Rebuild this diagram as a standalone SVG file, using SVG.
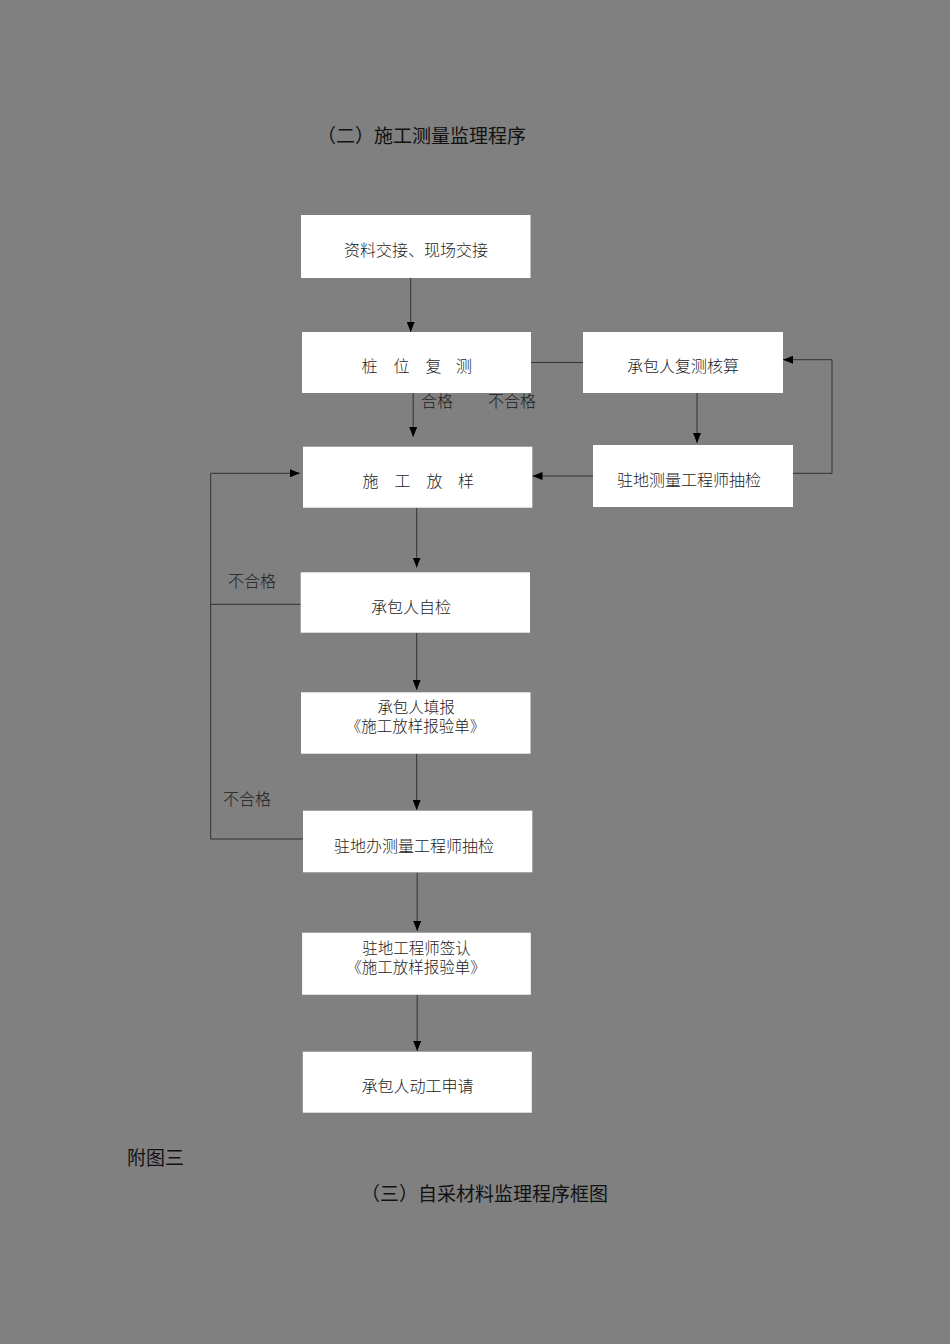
<svg xmlns="http://www.w3.org/2000/svg" width="950" height="1344" viewBox="0 0 950 1344">
<style>
.bg{fill:#808080}
.box{fill:#ffffff}
.t{font-family:"Noto Sans CJK SC","Liberation Serif",serif;font-size:16px;font-weight:300;fill:#1a1a1a;text-anchor:middle;dominant-baseline:central}
.t2{font-family:"Noto Sans CJK SC","Liberation Serif",serif;font-size:15.5px;font-weight:300;fill:#1a1a1a;text-anchor:middle;dominant-baseline:central}
.ts{font-family:"Noto Sans CJK SC","Liberation Serif",serif;font-size:16px;font-weight:300;fill:#1a1a1a;dominant-baseline:central}
.lbl{font-family:"Noto Sans CJK SC","Liberation Sans",sans-serif;font-size:16px;font-weight:300;fill:#1a1a1a;dominant-baseline:central}
.h{font-family:"Noto Sans CJK SC","Liberation Sans",sans-serif;font-size:19px;font-weight:400;fill:#111;dominant-baseline:central}
.c{fill:none;stroke:#333;stroke-width:1}
</style>
<defs>
<marker id="ah" markerUnits="userSpaceOnUse" markerWidth="10" markerHeight="8" refX="10" refY="4" orient="auto">
<path d="M0,0 L10,4 L0,8 z" fill="#000"/>
</marker>
</defs>
<rect class="bg" x="0" y="0" width="950" height="1344"/>
<text class="h" x="317" y="134">（二）施工测量监理程序</text>

<g id="connectors">
<path class="c" d="M410.7,278 V332" marker-end="url(#ah)"/>
<path class="c" d="M531,362.5 H583"/>
<path class="c" d="M413.2,388 V437" marker-end="url(#ah)"/>
<path class="c" d="M697,393 V443" marker-end="url(#ah)"/>
<path class="c" d="M593,476 H532.5" marker-end="url(#ah)"/>
<path class="c" d="M793,473.3 H832 V359.7 H783" marker-end="url(#ah)"/>
<path class="c" d="M416.7,508 V567.5" marker-end="url(#ah)"/>
<path class="c" d="M416.7,633 V690" marker-end="url(#ah)"/>
<path class="c" d="M416.7,754 V810" marker-end="url(#ah)"/>
<path class="c" d="M417.2,872.5 V931" marker-end="url(#ah)"/>
<path class="c" d="M417.2,995 V1051" marker-end="url(#ah)"/>
<path class="c" d="M302.7,839 H210.7 V473.3 H300" marker-end="url(#ah)"/>
<path class="c" d="M300.7,604.3 H210.7"/>
<text class="lbl" x="421" y="400">合格</text>
<text class="lbl" x="488" y="400">不合格</text>
<text class="lbl" x="228" y="579.5">不合格</text>
<text class="lbl" x="223" y="797.5">不合格</text>
</g>

<g id="n1">
<rect class="box" x="301" y="215" width="229.5" height="63"/>
<text class="t" x="416" y="249">资料交接、现场交接</text>
</g>
<g id="n2">
<rect class="box" x="302" y="332" width="229" height="61"/>
<text class="ts" x="361.5 393.5 425.5 456" y="365">桩位复测</text>
</g>
<g id="n3">
<rect class="box" x="583" y="332" width="200" height="61"/>
<text class="t" x="683" y="365">承包人复测核算</text>
</g>
<g id="n4">
<rect class="box" x="593" y="445" width="200" height="62"/>
<text class="t" x="689" y="479">驻地测量工程师抽检</text>
</g>
<g id="n5">
<rect class="box" x="303" y="446.7" width="229.3" height="61"/>
<text class="ts" x="362.5 394.5 426.5 458" y="480">施工放样</text>
</g>
<g id="n6">
<rect class="box" x="300.7" y="572.3" width="229.3" height="60.4"/>
<text class="t" x="411" y="606">承包人自检</text>
</g>
<g id="n7">
<rect class="box" x="301" y="692.3" width="229.5" height="61.4"/>
<text class="t2"><tspan x="416" y="706">承包人填报</tspan><tspan x="415.5" y="725">《施工放样报验单》</tspan></text>
</g>
<g id="n8">
<rect class="box" x="303" y="810.7" width="229.3" height="61.6"/>
<text class="t" x="414" y="844.5">驻地办测量工程师抽检</text>
</g>
<g id="n9">
<rect class="box" x="302.1" y="932.7" width="228.7" height="62"/>
<text class="t2"><tspan x="416.5" y="947">驻地工程师签认</tspan><tspan x="416" y="966">《施工放样报验单》</tspan></text>
</g>
<g id="n10">
<rect class="box" x="302.8" y="1051.7" width="229" height="61"/>
<text class="t" x="417.5" y="1085">承包人动工申请</text>
</g>

<text class="h" x="127" y="1156.5">附图三</text>
<text class="h" x="361" y="1192">（三）自采材料监理程序框图</text>
</svg>
